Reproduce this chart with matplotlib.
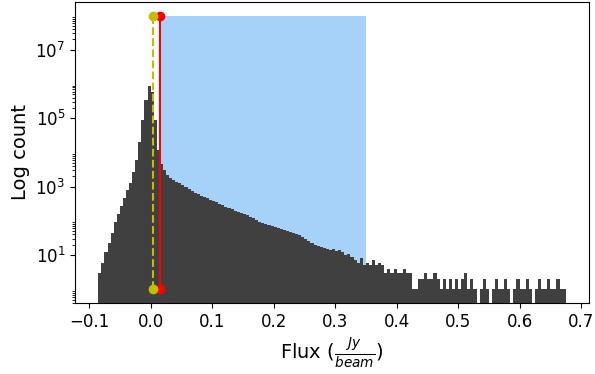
import numpy as np
import matplotlib
matplotlib.use("Agg")
import matplotlib.pyplot as plt
from matplotlib.ticker import FixedLocator, NullFormatter

# histogram counts, bins of width 0.005 starting at -0.085
bin_start = -0.085
bin_width = 0.005
counts = [
    3, 6, 12, 22, 45, 90, 160, 280, 480, 800,
    1300, 2600, 6000, 20000, 90000, 350000, 900000, 600000, 90000, 12000,
    4500, 3000, 2200, 1800, 1550, 1400, 1280, 1150, 1000, 880,
    760, 650, 600, 550, 500, 450, 410, 380, 350, 320,
    290, 260, 235, 215, 200, 185, 175, 160, 145, 128,
    117, 105, 95, 88, 82, 76, 72, 68, 62, 58,
    54, 50, 46, 44, 40, 38, 33, 29, 26, 22,
    20, 18, 17, 16, 15, 14, 15, 13, 14, 12,
    10, 11, 9, 7, 6, 8, 5, 6, 5, 7,
    5, 6, 5, 3, 4, 3, 4, 3, 3, 4,
    3, 3, 1, 1, 2, 2, 3, 2, 2, 3,
    2, 1, 2, 1, 2, 1, 2, 1, 2, 3,
    1, 2, 1, 0, 1, 2, 1, 0, 1, 2,
    1, 1, 2, 1, 0, 1, 2, 1, 1, 2,
    1, 0, 1, 2, 1, 1, 2, 1, 1, 2,
    1, 1,
]

# threshold lines and selected range
red_x = 0.015
yellow_x = 0.0045
span_lo = 0.0166
span_hi = 0.35
line_y = [1, 1e8]

# y ticks: labelled every other decade
major_ticks = [1e1, 1e3, 1e5, 1e7]
minor_ticks = [s * 10.0 ** k for k in (-1, 1, 3, 5, 7) for s in range(2, 10)]

counts = np.array(counts, dtype=float)
edges = bin_start + bin_width * np.arange(len(counts) + 1)
centers = edges[:-1] + bin_width / 2

fig = plt.figure(figsize=(5.95, 3.74), dpi=100)
ax = fig.add_subplot(111)
fig.subplots_adjust(left=0.126, right=0.990, top=0.995, bottom=0.19)

ax.fill_between([span_lo, span_hi], line_y[0], line_y[1], color="#a6d2fa", lw=0)
ax.hist(centers, bins=edges, weights=counts, log=True, color="#404040")
ax.plot([red_x, red_x], line_y, "ro-")
ax.plot([yellow_x, yellow_x], line_y, "yo--")

ax.yaxis.set_major_locator(FixedLocator(major_ticks))
ax.yaxis.set_minor_locator(FixedLocator(minor_ticks))
ax.yaxis.set_minor_formatter(NullFormatter())

ax.set_xlabel(r"Flux ($\frac{Jy}{beam}$)", fontsize=14)
ax.set_ylabel("Log count", fontsize=14)
ax.tick_params(labelsize=12)

fig.savefig("out.png")
